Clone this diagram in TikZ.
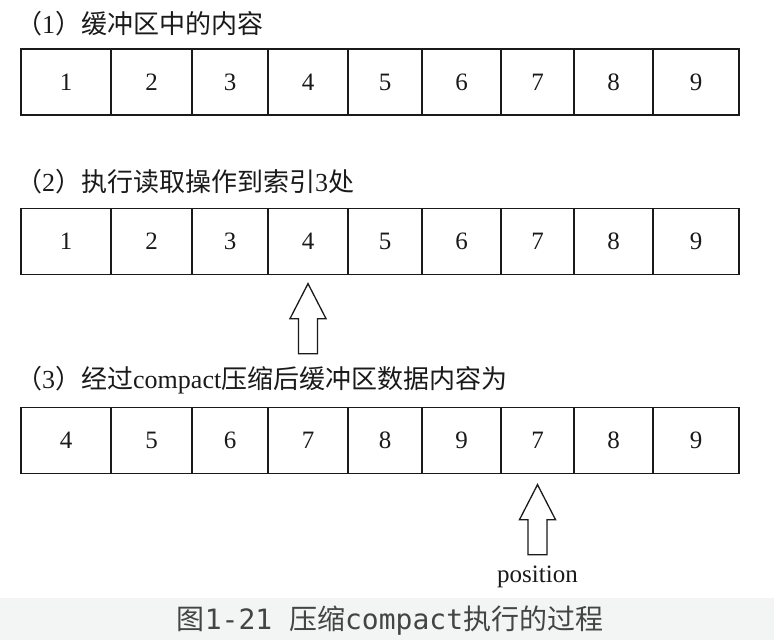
\documentclass[tikz,border=0pt]{standalone}
\usepackage{fontspec}
\setmainfont{Liberation Serif}
\newfontfamily\cjk{Noto Sans CJK SC}
\newfontfamily\capmono{DejaVu Sans Mono}
\definecolor{capbg}{HTML}{F3F5F5}
\definecolor{ink}{HTML}{1A1A1A}
\definecolor{capink}{HTML}{444444}
\begin{document}
\begin{tikzpicture}[x=1pt,y=-1pt,
  cell/.style={draw=ink, line width=1.3pt, inner sep=0pt, minimum height=66pt,
    text=ink, font=\fontsize{25}{25}\selectfont},
  title/.style={anchor=west, inner sep=0pt, text=ink, font=\fontsize{26}{26}\selectfont},
  uparrow/.pic={\draw[draw=ink, line width=1.3pt, line join=miter]
    (0,0) -- (18,35) -- (9.5,35) -- (9.5,70) -- (-9.5,70) -- (-9.5,35) -- (-18,35) -- cycle;}
]
\useasboundingbox (0,0) rectangle (774,640);
\fill[white] (0,0) rectangle (774,598);
\fill[capbg] (0,598) rectangle (774,640);

% titles
\node[title] (t1) at (16,24) {{\cjk （}1{\cjk ）缓冲区中的内容}};
\node[title] (t2) at (16,182) {{\cjk （}2{\cjk ）执行读取操作到索引}3{\cjk 处}};
\node[title] (t3) at (16,380) {{\cjk （}3{\cjk ）经过}compact{\cjk 压缩后缓冲区数据内容为}};

% rows 1 and 2
\foreach \a/\b/\i in {21/111/1,111/192/2,192/268/3,268/348/4,348/422/5,422/501/6,501/574/7,574/653/8,653/739/9}{
  \node[cell, minimum width={(\b-\a)*1pt}] (c1-\i) at ({(\a+\b)/2},82) {\i};
  \node[cell, minimum width={(\b-\a)*1pt}] (c2-\i) at ({(\a+\b)/2},241.5) {\i};
}
% row 3
\foreach \a/\b/\i/\v in {21/111/1/4,111/192/2/5,192/268/3/6,268/348/4/7,348/422/5/8,422/501/6/9,501/574/7/7,574/653/8/8,653/739/9/9}{
  \node[cell, minimum width={(\b-\a)*1pt}] (c3-\i) at ({(\a+\b)/2},440.5) {\v};
}

% arrows
\pic at ([yshift=-8.5pt]c2-4.south) {uparrow};
\pic at ([yshift=-10.5pt]c3-7.south) {uparrow};
\node[inner sep=0pt, text=ink, font=\fontsize{25}{25}\selectfont] (pos) at (537.5,577) {position};

% caption
\node[inner sep=0pt, text=capink, font=\fontsize{28}{28}\selectfont] (cap) at (390,621)
  {{\cjk 图}{\capmono 1-21 }{\cjk 压缩}{\capmono compact}{\cjk 执行的过程}};
\end{tikzpicture}
\end{document}
